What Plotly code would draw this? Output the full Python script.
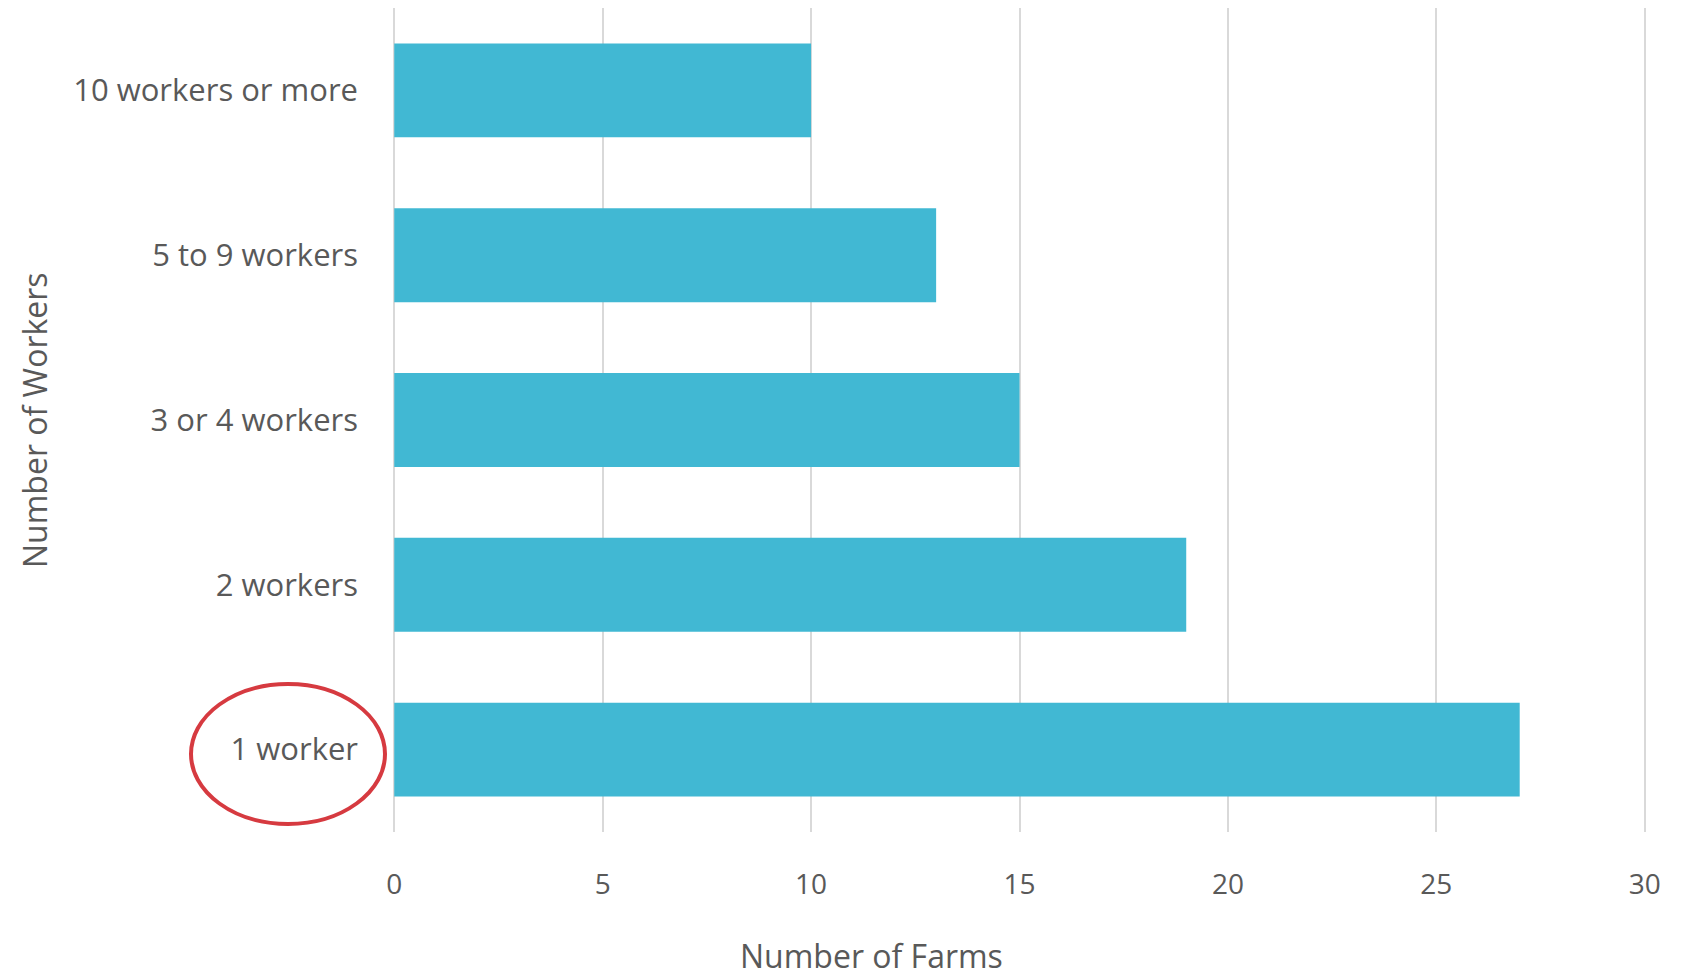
import plotly.graph_objects as go

# Farms by workforce size
categories = ["1 worker", "2 workers", "3 or 4 workers", "5 to 9 workers", "10 workers or more"]
farms = [27, 19, 15, 13, 10]
x_ticks = [0, 5, 10, 15, 20, 25, 30]

BAR_COLOR = "#41B8D3"
TEXT_COLOR = "#595959"
GRID_COLOR = "#D9D9D9"
FONT = "Open Sans"

fig = go.Figure(
    go.Bar(
        x=farms,
        y=categories,
        orientation="h",
        marker=dict(color=BAR_COLOR, line=dict(width=0)),
        hoverinfo="x+y",
    )
)

fig.update_layout(
    width=1690,
    height=980,
    margin=dict(l=393, r=44, t=8, b=148),
    paper_bgcolor="white",
    plot_bgcolor="white",
    bargap=0.43,
    showlegend=False,
    font=dict(family=FONT, color=TEXT_COLOR, size=30),
)

# Range padded by a hair so the 0 and 30 gridlines are kept at the edges
fig.update_xaxes(
    range=[-0.03, 30.03],
    tickvals=x_ticks,
    ticktext=[str(v) for v in x_ticks],
    showgrid=True,
    gridcolor=GRID_COLOR,
    gridwidth=2,
    zeroline=False,
    showline=False,
    ticks="",
    ticklabelstandoff=33,
    tickfont=dict(size=28, color=TEXT_COLOR, family=FONT),
)

fig.update_yaxes(
    categoryorder="array",
    categoryarray=categories,
    showgrid=False,
    zeroline=False,
    showline=False,
    ticks="",
    ticklabelstandoff=34,
    tickfont=dict(size=31, color=TEXT_COLOR, family=FONT),
)

PLOT_L, PLOT_R, PLOT_T, PLOT_B = 393, 1646, 8, 832
PW, PH = PLOT_R - PLOT_L, PLOT_B - PLOT_T

# Axis titles
fig.add_annotation(
    text="Number of Farms", xref="paper", yref="paper",
    x=(871 - PLOT_L) / PW, y=-(955 - PLOT_B) / PH,
    showarrow=False, xanchor="center", yanchor="middle",
    font=dict(size=32, color=TEXT_COLOR, family=FONT),
)
fig.add_annotation(
    text="Number of Workers", xref="paper", yref="paper",
    x=-(PLOT_L - 34) / PW, y=0.5, textangle=-90,
    showarrow=False, xanchor="center", yanchor="middle",
    font=dict(size=32, color=TEXT_COLOR, family=FONT),
)

# Highlight ring around the single-worker category label
fig.add_shape(
    type="circle", xref="paper", yref="paper",
    x0=-(PLOT_L - 191) / PW, x1=-(PLOT_L - 385) / PW,
    y0=(PLOT_B - 824) / PH, y1=(PLOT_B - 684) / PH,
    line=dict(color="#D63A40", width=4),
    fillcolor="rgba(0,0,0,0)",
    layer="above",
)

fig.write_html("out.html")
